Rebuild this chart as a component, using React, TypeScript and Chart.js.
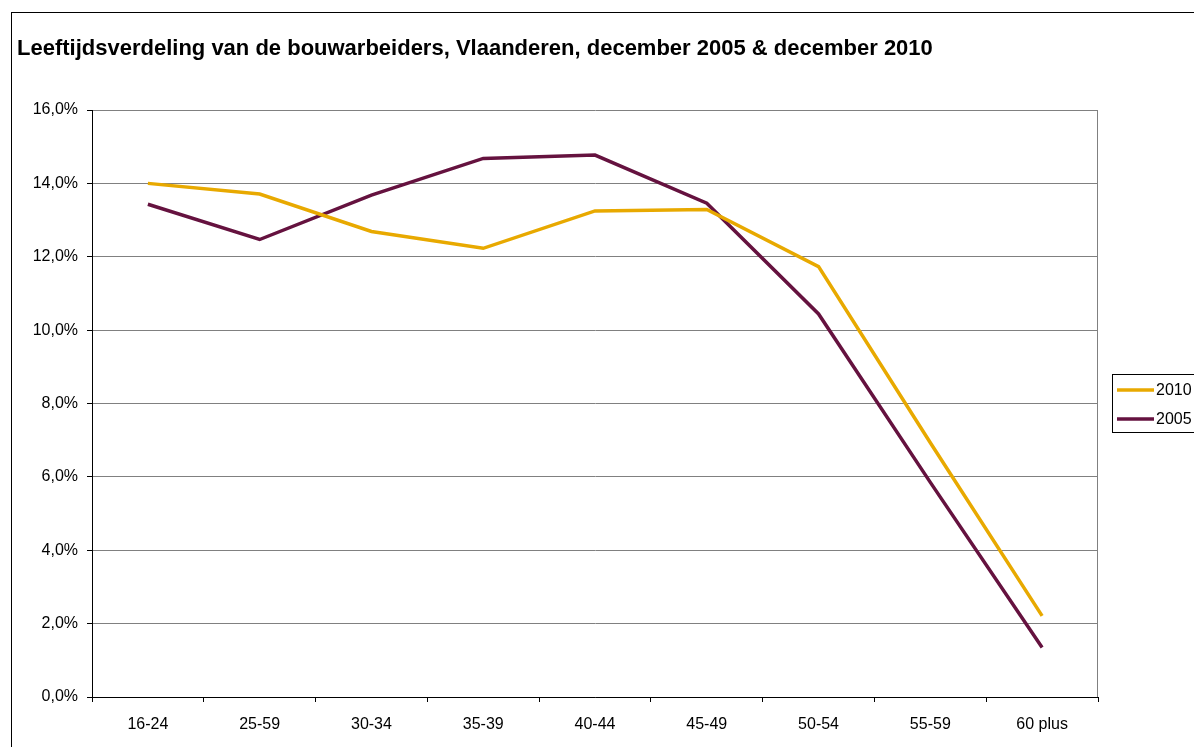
import React, { useEffect, useRef } from "react";
import { Chart, registerables } from "chart.js";

Chart.register(...registerables);

const categories = ["16-24", "25-59", "30-34", "35-39", "40-44", "45-49", "50-54", "55-59", "60 plus"];
const values2010 = [14.0, 13.71, 12.69, 12.23, 13.25, 13.29, 11.73, 6.93, 2.21];
const values2005 = [13.43, 12.47, 13.68, 14.68, 14.77, 13.46, 10.44, 5.85, 1.35];
const legendLabels = ["2010", "2005"];
const colors = ["#E8A900", "#65123F"];
const titleText = "Leeftijdsverdeling van de bouwarbeiders, Vlaanderen, december 2005 & december 2010";
const FONT = '"Liberation Sans", Arial, sans-serif';

const decorPlugin = {
  id: "decor",
  beforeDraw(chart: any) {
    const ctx = chart.ctx;
    ctx.save();
    ctx.fillStyle = "#fff";
    ctx.fillRect(0, 0, chart.width, chart.height);
    // outer frame
    ctx.strokeStyle = "#000";
    ctx.lineWidth = 1;
    ctx.strokeRect(11.5, 12.5, 1300, 900);
    // title
    ctx.fillStyle = "#000";
    ctx.font = "bold 22px " + FONT;
    ctx.textBaseline = "alphabetic";
    ctx.textAlign = "left";
    ctx.fillText(titleText, 17, 55);
    ctx.restore();
  },
  afterDraw(chart: any) {
    const ctx = chart.ctx;
    const a = chart.chartArea;
    ctx.save();
    // plot area right border
    ctx.strokeStyle = "#808080";
    ctx.lineWidth = 1;
    ctx.beginPath();
    ctx.moveTo(Math.round(a.right) - 0.5, a.top);
    ctx.lineTo(Math.round(a.right) - 0.5, a.bottom);
    ctx.stroke();
    // legend
    ctx.strokeStyle = "#000";
    ctx.strokeRect(1112.5, 374.5, 100, 58);
    ctx.font = "16px " + FONT;
    ctx.textBaseline = "middle";
    ctx.textAlign = "left";
    const ys = [390, 419];
    legendLabels.forEach((lab, i) => {
      ctx.strokeStyle = colors[i];
      ctx.lineWidth = 3.5;
      ctx.beginPath();
      ctx.moveTo(1117, ys[i]);
      ctx.lineTo(1154, ys[i]);
      ctx.stroke();
      ctx.fillStyle = "#000";
      ctx.fillText(lab, 1156, ys[i] + 1);
    });
    ctx.restore();
  },
};

export default function App() {
  const ref = useRef<HTMLCanvasElement>(null);
  useEffect(() => {
    if (!ref.current) return;
    const chart = new Chart(ref.current, {
      type: "line",
      data: {
        labels: categories,
        datasets: [
          { label: legendLabels[0], data: values2010, borderColor: colors[0], backgroundColor: colors[0], borderWidth: 3.5, pointRadius: 0, tension: 0 },
          { label: legendLabels[1], data: values2005, borderColor: colors[1], backgroundColor: colors[1], borderWidth: 3.5, pointRadius: 0, tension: 0 },
        ],
      },
      options: {
        animation: false,
        responsive: false,
        maintainAspectRatio: false,
        layout: { padding: { left: 0, top: 110, right: 96, bottom: 0 } },
        plugins: { legend: { display: false }, title: { display: false }, tooltip: { enabled: false } },
        scales: {
          x: {
            offset: true,
            grid: { display: true, drawOnChartArea: false, drawTicks: true, tickLength: 5, offset: true, color: "#000" },
            border: { display: true, color: "#000", width: 1 },
            ticks: { color: "#000", font: { family: FONT, size: 16 }, padding: 13, maxRotation: 0, autoSkip: false },
            afterFit(scale: any) { scale.height = 50; },
          },
          y: {
            min: 0,
            max: 16,
            grid: { color: "#808080", tickColor: "#000", drawTicks: true, tickLength: 5 },
            border: { display: true, color: "#000", width: 1 },
            ticks: {
              stepSize: 2,
              color: "#000",
              font: { family: FONT, size: 16 },
              padding: 9,
              callback: (v: any) => Number(v).toFixed(1).replace(".", ",") + "%",
            },
            afterFit(scale: any) { scale.width = 92; },
          },
        },
      },
      plugins: [decorPlugin],
    });
    return () => chart.destroy();
  }, []);
  return (
    <div style={{ position: "fixed", left: 0, top: 0, width: 1194, height: 747 }}>
      <canvas ref={ref} width={1194} height={747} style={{ width: 1194, height: 747 }} />
    </div>
  );
}
